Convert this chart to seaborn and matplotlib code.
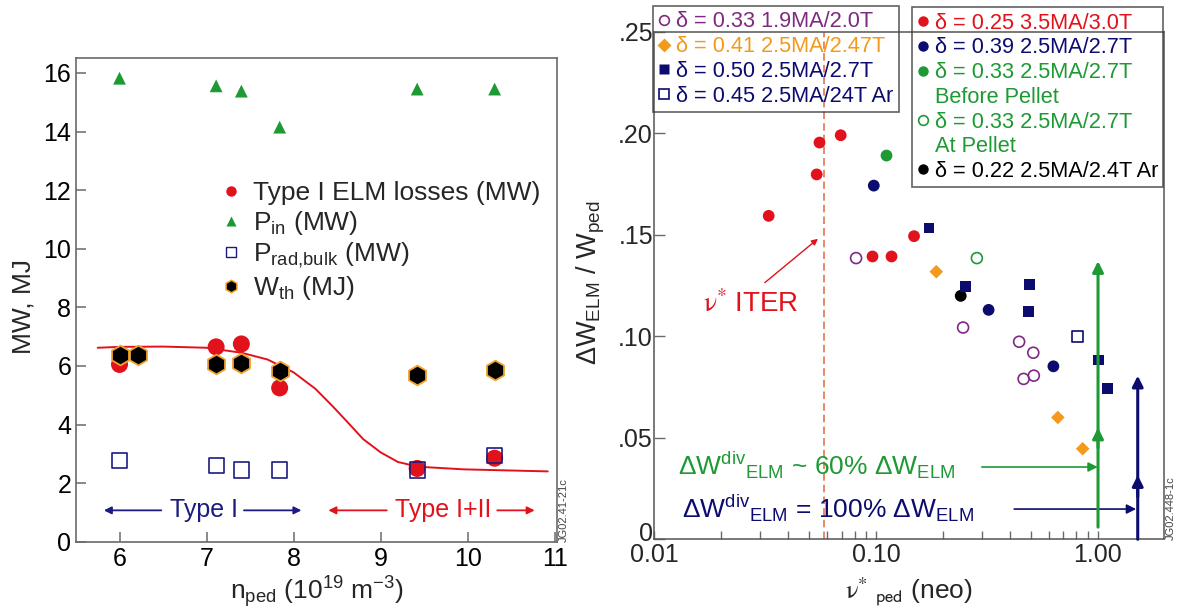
import matplotlib
matplotlib.use("Agg")
import matplotlib.pyplot as plt
import seaborn as sns
import pandas as pd
from matplotlib.lines import Line2D
from matplotlib.ticker import FixedLocator, FixedFormatter, NullFormatter
from matplotlib.transforms import ScaledTranslation

# ---------------- data: left panel (n_ped in 1e19 m^-3) ----------------
n_ped_elm = [6.0, 7.11, 7.40, 7.84, 9.42, 10.31]
elm_loss_mw = [6.05, 6.65, 6.75, 5.25, 2.50, 2.85]
n_ped_pin = [6.0, 7.11, 7.40, 7.84, 9.42, 10.31]
p_in_mw = [15.82, 15.56, 15.38, 14.15, 15.45, 15.45]
n_ped_rad = [6.0, 7.11, 7.40, 7.84, 9.42, 10.31]
p_rad_bulk_mw = [2.78, 2.60, 2.45, 2.45, 2.45, 2.95]
n_ped_wth = [6.0, 6.21, 7.11, 7.40, 7.84, 9.42, 10.31]
w_th_mj = [6.38, 6.38, 6.05, 6.10, 5.82, 5.68, 5.85]
fit_n = [5.75, 6.0, 6.5, 7.0, 7.4, 7.7, 8.0, 8.25, 8.45, 8.62, 8.8, 9.0, 9.2, 9.43, 9.95, 10.5, 10.92]
fit_loss = [6.62, 6.65, 6.66, 6.62, 6.45, 6.22, 5.78, 5.22, 4.62, 4.08, 3.50, 3.05, 2.72, 2.56, 2.47, 2.43, 2.40]

left_xticks = [6, 7, 8, 9, 10, 11]
left_yticks = [0, 2, 4, 6, 8, 10, 12, 14, 16]

# ---------------- data: right panel (nu*_ped vs dW_ELM/W_ped) ----------------
nu_d025 = [0.0328, 0.0540, 0.0556, 0.0693, 0.0964, 0.1175, 0.1484]
dw_d025 = [0.1593, 0.1797, 0.1954, 0.1990, 0.1393, 0.1393, 0.1493]
nu_d039 = [0.0977, 0.322, 0.631]
dw_d039 = [0.1742, 0.1130, 0.0852]
nu_d033_before = [0.1115]
dw_d033_before = [0.1890]
nu_d033_at = [0.285]
dw_d033_at = [0.1385]
nu_d022 = [0.241]
dw_d022 = [0.1199]
nu_d033_19 = [0.0813, 0.247, 0.442, 0.512, 0.463, 0.515]
dw_d033_19 = [0.1385, 0.1043, 0.0973, 0.0919, 0.0790, 0.0806]
nu_d041 = [0.187, 0.661, 0.855]
dw_d041 = [0.1318, 0.0600, 0.0446]
nu_d050 = [0.173, 0.254, 0.493, 0.488, 1.006, 1.106]
dw_d050 = [0.1534, 0.1244, 0.1256, 0.1122, 0.0883, 0.0742]
nu_d045 = [0.809]
dw_d045 = [0.0998]
nu_iter = 0.058

right_xticks = [0.01, 0.1, 1.0]
right_xticklabels = ["0.01", "0.10", "1.00"]
right_yticks = [0, 0.05, 0.10, 0.15, 0.20, 0.25]
right_yticklabels = ["0", ".05", ".10", ".15", ".20", ".25"]

legend_left_labels = ["δ = 0.33 1.9MA/2.0T", "δ = 0.41 2.5MA/2.47T",
                      "δ = 0.50 2.5MA/2.7T", "δ = 0.45 2.5MA/24T Ar"]
legend_right_labels = ["δ = 0.25 3.5MA/3.0T", "δ = 0.39 2.5MA/2.7T",
                       "δ = 0.33 2.5MA/2.7T", "Before Pellet",
                       "δ = 0.33 2.5MA/2.7T", "At Pellet",
                       "δ = 0.22 2.5MA/2.4T Ar"]

# ---------------- style ----------------
sns.set_theme(style="white")
plt.rcParams["font.family"] = ["Liberation Sans", "DejaVu Sans"]
plt.rcParams["mathtext.fontset"] = "custom"
plt.rcParams["mathtext.rm"] = "Liberation Sans"
plt.rcParams["mathtext.it"] = "Liberation Sans:italic"
plt.rcParams["mathtext.bf"] = "Liberation Sans:bold"
plt.rcParams["mathtext.sf"] = "Liberation Sans"
plt.rcParams["mathtext.default"] = "rm"

RED = "#e2121c"
GREEN = "#1d9a34"
NAVY = "#0c0c6e"
NAVY2 = "#1b1b80"
ORANGE = "#f39a1d"
PURPLE = "#7e2a80"
HEXEDGE = "#f0a22c"
SPINE = "#6a6a6a"

W, H = 1177, 610
fig = plt.figure(figsize=(W / 100, H / 100), dpi=100)
ax1 = fig.add_axes([76 / W, 1 - 541.7 / H, (557.3 - 76) / W, (541.7 - 58.3) / H])
ax2 = fig.add_axes([654.3 / W, 1 - 539.3 / H, (1164 - 654.3) / W, (539.3 - 31.7) / H])

# ---------------- left panel ----------------
sns.lineplot(x=fit_n, y=fit_loss, ax=ax1, color=RED, lw=1.4, sort=False, zorder=2)
sns.scatterplot(x=n_ped_elm, y=elm_loss_mw, ax=ax1, marker="o", s=150, color=RED,
                edgecolor="none", legend=False, zorder=3)
sns.scatterplot(x=n_ped_rad, y=p_rad_bulk_mw, ax=ax1, marker="s", s=120, color=NAVY2,
                facecolors="none", edgecolor=NAVY2, linewidth=1.2, legend=False, zorder=4)
sns.scatterplot(x=n_ped_wth, y=w_th_mj, ax=ax1, marker="h", s=200, color="black",
                edgecolor=HEXEDGE, linewidth=1.3, legend=False, zorder=5)
sns.scatterplot(x=n_ped_pin, y=p_in_mw, ax=ax1, marker="^", s=85, color=GREEN,
                edgecolor="none", legend=False, zorder=5)

ax1.set_xlim(5.5, 11.03)
ax1.set_ylim(0, 16.5)
ax1.xaxis.set_major_locator(FixedLocator(left_xticks))
ax1.yaxis.set_major_locator(FixedLocator(left_yticks))
ax1.tick_params(axis="both", which="major", direction="in", length=7.2, width=1.1,
                color=SPINE, labelsize=18, labelcolor="black", left=True, bottom=True,
                top=False, right=False)
ax1.tick_params(axis="y", pad=3.5)
ax1.tick_params(axis="x", pad=4)
for sp in ax1.spines.values():
    sp.set_color(SPINE)
    sp.set_linewidth(1.2)
ax1.set_xlabel(r"n$_{\rm ped}$ (10$^{19}$ m$^{-3}$)", fontsize=19)
ax1.set_ylabel("MW, MJ", fontsize=19)
ax1.xaxis.set_label_coords(0.5, -0.068)
ax1.yaxis.set_label_coords(-0.085, 0.486)

# legend of left panel (no frame)
lh = [Line2D([], [], ls="none", marker="o", ms=7.5, mfc=RED, mec="none"),
      Line2D([], [], ls="none", marker="^", ms=7, mfc=GREEN, mec="none"),
      Line2D([], [], ls="none", marker="s", ms=6.5, mfc="none", mec=NAVY2, mew=1.0),
      Line2D([], [], ls="none", marker="h", ms=9, mfc="black", mec=HEXEDGE, mew=1.1)]
ll = ["Type I ELM losses (MW)", r"P$_{\rm in}$ (MW)", r"P$_{\rm rad{,}bulk}$ (MW)", r"W$_{\rm th}$ (MJ)"]
leg0 = ax1.legend(lh, ll, loc="upper left", bbox_to_anchor=(220.4 / W, 1 - 181 / H),
                  bbox_transform=fig.transFigure, frameon=False, fontsize=19,
                  borderpad=0, borderaxespad=0, handlelength=0.8, handletextpad=0.44,
                  labelspacing=0.15)

# Type I / Type I+II annotations
y_ann = 1.07
ax1.text(6.975, y_ann, "Type I", color=NAVY2, fontsize=18, ha="center", va="center")
ax1.text(9.715, y_ann, "Type I+II", color=RED, fontsize=18, ha="center", va="center")
arrow_kw = dict(arrowstyle="-|>", lw=1.3, mutation_scale=11, shrinkA=0, shrinkB=0)
ax1.annotate("", xy=(5.82, y_ann), xytext=(6.48, y_ann), arrowprops=dict(color=NAVY2, **arrow_kw))
ax1.annotate("", xy=(8.09, y_ann), xytext=(7.43, y_ann), arrowprops=dict(color=NAVY2, **arrow_kw))
ax1.annotate("", xy=(8.40, y_ann), xytext=(9.07, y_ann), arrowprops=dict(color=RED, **arrow_kw))
ax1.annotate("", xy=(10.77, y_ann), xytext=(10.34, y_ann), arrowprops=dict(color=RED, **arrow_kw))

fig.text(563.5 / W, 1 - 541.7 / H, "JG02.41-21c", rotation=90, fontsize=8,
         ha="center", va="bottom", color="#444444")

# ---------------- right panel ----------------
ax2.set_xscale("log")
ax2.axvline(nu_iter, color="#e5734f", lw=1.2, ls=(0, (4.5, 2.5)), zorder=1)

sns.scatterplot(x=nu_d025, y=dw_d025, ax=ax2, marker="o", s=72, color=RED, edgecolor="none", legend=False, zorder=3)
sns.scatterplot(x=nu_d039, y=dw_d039, ax=ax2, marker="o", s=72, color=NAVY, edgecolor="none", legend=False, zorder=3)
sns.scatterplot(x=nu_d033_before, y=dw_d033_before, ax=ax2, marker="o", s=72, color=GREEN, edgecolor="none", legend=False, zorder=3)
sns.scatterplot(x=nu_d033_at, y=dw_d033_at, ax=ax2, marker="o", s=62, color=GREEN, facecolors="none",
                edgecolor=GREEN, linewidth=1.2, legend=False, zorder=3)
sns.scatterplot(x=nu_d022, y=dw_d022, ax=ax2, marker="o", s=72, color="black", edgecolor="none", legend=False, zorder=3)
sns.scatterplot(x=nu_d033_19, y=dw_d033_19, ax=ax2, marker="o", s=62, color=PURPLE, facecolors="none",
                edgecolor=PURPLE, linewidth=1.2, legend=False, zorder=3)
sns.scatterplot(x=nu_d041, y=dw_d041, ax=ax2, marker="D", s=48, color=ORANGE, edgecolor="none", legend=False, zorder=3)
sns.scatterplot(x=nu_d050, y=dw_d050, ax=ax2, marker="s", s=58, color=NAVY, edgecolor="none", legend=False, zorder=3)
sns.scatterplot(x=nu_d045, y=dw_d045, ax=ax2, marker="s", s=58, color=NAVY, facecolors="none",
                edgecolor=NAVY, linewidth=1.2, legend=False, zorder=3)

ax2.set_xlim(0.01, 1.99)
ax2.set_ylim(0, 0.25)
ax2.xaxis.set_major_locator(FixedLocator(right_xticks))
ax2.xaxis.set_major_formatter(FixedFormatter(right_xticklabels))
minor = [m * d for d in (0.01, 0.1, 1.0) for m in range(2, 10) if m * d < 1.99]
ax2.xaxis.set_minor_locator(FixedLocator(minor))
ax2.xaxis.set_minor_formatter(NullFormatter())
ax2.yaxis.set_major_locator(FixedLocator(right_yticks))
ax2.yaxis.set_major_formatter(FixedFormatter(right_yticklabels))
ax2.tick_params(axis="both", which="both", direction="in", color=SPINE, width=1.0,
                top=False, right=False, left=True, bottom=True)
ax2.tick_params(axis="x", which="both", length=5.5, labelsize=18, pad=3)
ax2.tick_params(axis="y", which="major", length=7.7, labelsize=18, pad=1)
for sp in ax2.spines.values():
    sp.set_color("#555555")
    sp.set_linewidth(1.1)
ax2.set_xlabel(r"$\mathrm{\nu}^{*}$ $_{\mathsf{ped}}$ (neo)", fontsize=19, math_fontfamily="stix")
ax2.set_ylabel(r"$\Delta$W$_{\rm ELM}$ / W$_{\rm ped}$", fontsize=19.5)
ax2.xaxis.set_label_coords(0.5, -0.072)
ax2.yaxis.set_label_coords(-0.093, 0.505)

# the "0" label of the right panel sits a little above its tick in the original
fig.canvas.draw()
zero_lab = ax2.yaxis.get_major_ticks()[0].label1
zero_lab.set_transform(zero_lab.get_transform() + ScaledTranslation(0, 8 / 100, fig.dpi_scale_trans))

# annotations
ax2.text(0.0166, 0.116, r"$\mathrm{\nu}^{*}$ ITER", color=RED, fontsize=20, ha="left",
         va="center", math_fontfamily="stix")
ax2.annotate("", xy=(0.0547, 0.148), xytext=(0.0315, 0.1264),
             arrowprops=dict(arrowstyle="-|>", color=RED, lw=1.0, mutation_scale=9, shrinkA=0, shrinkB=0))
ax2.text(0.0128, 0.0365, r"$\Delta$W$^{\rm div}{}_{\rm ELM}$ ~ 60% $\Delta$W$_{\rm ELM}$",
         color=GREEN, fontsize=19, ha="left", va="center")
ax2.text(0.0133, 0.0154, r"$\Delta$W$^{\rm div}{}_{\rm ELM}$ = 100% $\Delta$W$_{\rm ELM}$",
         color=NAVY, fontsize=19, ha="left", va="center")
ak = dict(arrowstyle="-|>", lw=1.2, mutation_scale=14, shrinkA=0, shrinkB=0)
ax2.annotate("", xy=(1.0, 0.0356), xytext=(0.30, 0.0356), arrowprops=dict(color=GREEN, **ak))
ax2.annotate("", xy=(1.49, 0.0149), xytext=(0.42, 0.0149), arrowprops=dict(color=NAVY, **ak))
vk = dict(arrowstyle="-|>", lw=2.2, mutation_scale=16, shrinkA=0, shrinkB=0)
ax2.annotate("", xy=(1.003, 0.137), xytext=(1.003, 0.006), arrowprops=dict(color=GREEN, **vk))
ax2.annotate("", xy=(1.003, 0.055), xytext=(1.003, 0.045), arrowprops=dict(color=GREEN, **vk))
ax2.annotate("", xy=(1.515, 0.0806), xytext=(1.515, 0.0), arrowprops=dict(color=NAVY, **vk))
ax2.annotate("", xy=(1.515, 0.0316), xytext=(1.515, 0.021), arrowprops=dict(color=NAVY, **vk))

# legends of right panel (transparent boxes)
h1 = [Line2D([], [], ls="none", marker="o", ms=7, mfc="none", mec=PURPLE, mew=1.2),
      Line2D([], [], ls="none", marker="D", ms=7, mfc=ORANGE, mec="none"),
      Line2D([], [], ls="none", marker="s", ms=7, mfc=NAVY, mec="none"),
      Line2D([], [], ls="none", marker="s", ms=7, mfc="none", mec=NAVY, mew=1.2)]
c1 = [PURPLE, ORANGE, NAVY, NAVY]
h2 = [Line2D([], [], ls="none", marker="o", ms=7.5, mfc=RED, mec="none"),
      Line2D([], [], ls="none", marker="o", ms=7.5, mfc=NAVY, mec="none"),
      Line2D([], [], ls="none", marker="o", ms=7.5, mfc=GREEN, mec="none"),
      Line2D([], [], ls="none", marker=None),
      Line2D([], [], ls="none", marker="o", ms=7, mfc="none", mec=GREEN, mew=1.2),
      Line2D([], [], ls="none", marker=None),
      Line2D([], [], ls="none", marker="o", ms=7.5, mfc="black", mec="none")]
c2 = [RED, NAVY, GREEN, GREEN, GREEN, GREEN, "black"]

leg_kw = dict(loc="upper left", bbox_transform=fig.transFigure, frameon=True, fancybox=False,
              fontsize=15.7, borderpad=0.25, borderaxespad=0, handlelength=0.5,
              handletextpad=0.3, labelspacing=0.17)
leg1 = ax2.legend(h1, legend_left_labels, bbox_to_anchor=(653.3 / W, 1 - 6 / H), **leg_kw)
for t, c in zip(leg1.get_texts(), c1):
    t.set_color(c)
fr = leg1.get_frame()
fr.set_facecolor("none"); fr.set_edgecolor("#3a3a3a"); fr.set_linewidth(1.2)
ax2.add_artist(leg1)
leg2 = ax2.legend(h2, legend_right_labels, bbox_to_anchor=(911.7 / W, 1 - 7.3 / H), **leg_kw)
for t, c in zip(leg2.get_texts(), c2):
    t.set_color(c)
fr = leg2.get_frame()
fr.set_facecolor("none"); fr.set_edgecolor("#3a3a3a"); fr.set_linewidth(1.2)

fig.text(1170.5 / W, 1 - 540 / H, "JG02.448-1c", rotation=90, fontsize=8,
         ha="center", va="bottom", color="#444444")

fig.savefig("out.png", dpi=100)
